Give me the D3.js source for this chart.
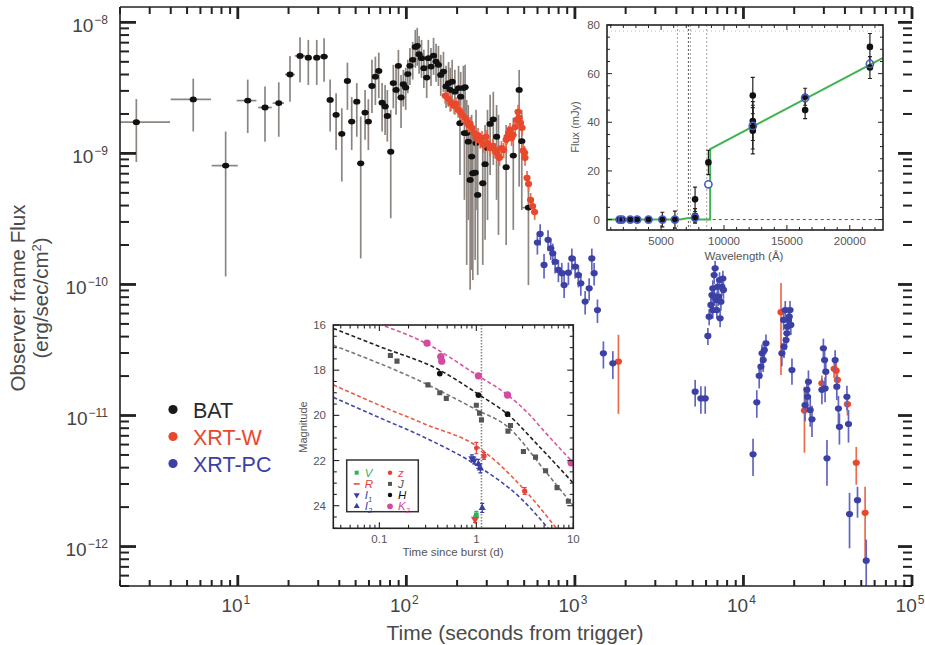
<!DOCTYPE html>
<html>
<head>
<meta charset="utf-8">
<title>GRB light curve with optical/NIR insets</title>
<script src="https://d3js.org/d3.v7.min.js"></script>
<style>
  body { margin: 0; background: #fff; }
  svg { font-family: "Liberation Sans", Arial, sans-serif; }
</style>
</head>
<body>
<svg id="chart" width="925" height="645"></svg>
<script>
// ---- main light curve: BAT [time s, flux, flux low, flux high, (time low, time high)]
const batData = [
  [2.5,1.73e-9,8.6e-10,2.6e-9,2.0,3.96],[5.44,2.58e-9,1.47e-9,3.72e-9,4.0,6.93],
  [8.47,8.07e-10,1.15e-10,1.47e-9,7.0,10],[11.45,2.53e-9,1.43e-9,3.66e-9,9.85,12.9],
  [14.5,2.24e-9,1.23e-9,3.24e-9,13.2,15.9],[17.5,2.42e-9,1.34e-9,3.49e-9,16.1,18.8],
  [20.4,4.0e-9,2.48e-9,5.55e-9,19.1,21.8],[23.4,5.55e-9,3.47e-9,7.71e-9,21.8,25.1],
  [26.2,5.38e-9,3.33e-9,7.35e-9,25.1,27.6],[29.4,5.38e-9,3.33e-9,7.35e-9,28.0,30.8],
  [32.5,5.48e-9,3.53e-9,7.57e-9,30.8,34.2],
  [35.3,2.56e-9,1.47e-9,3.66e-9],[38.3,1.97e-9,1.06e-9,2.88e-9],[41.4,1.41e-9,6.1e-10,2.21e-9],
  [44.7,3.57e-9,2.15e-9,4.93e-9],[47.4,1.75e-9,1.06e-9,2.69e-9],[50.8,2.48e-9,1.34e-9,3.44e-9],
  [53.6,8.4e-10,1.58e-10,1.91e-9],[56.9,2.05e-9,1.27e-9,3.05e-9],[59.5,1.75e-9,1.06e-9,2.59e-9],
  [62.5,3.27e-9,2.03e-9,5.18e-9],[65.5,3.85e-9,2.34e-9,5.48e-9],[68.6,4.26e-9,2.64e-9,5.88e-9],
  [71.8,2.44e-9,1.47e-9,3.44e-9],[74.8,2.28e-9,1.38e-9,3.33e-9],[77.1,1.93e-9,1.23e-9,3.05e-9],
  [80.8,1.03e-9,3.2e-10,2.15e-9],[83.7,3.44e-9,2.21e-9,4.74e-9],[86.9,3.05e-9,1.97e-9,4.6e-9],
  [89.7,4.66e-9,2.8e-9,6.17e-9],[93,2.67e-9,1.56e-9,3.97e-9],[96,3.37e-9,2.28e-9,4.34e-9],
  [99.1,3.18e-9,2.15e-9,4.5e-9],[102,4.03e-9,2.88e-9,5.18e-9],[105,4.66e-9,3.33e-9,6.38e-9],
  [109,5.18e-9,3.66e-9,7.1e-9],[113,6.5e-9,4.5e-9,8.77e-9],[116,6.62e-9,4.66e-9,9.08e-9],
  [119,5.71e-9,4.05e-9,7.88e-9],[123,5.33e-9,3.77e-9,7.35e-9],[127,4.47e-9,3.16e-9,6.17e-9],
  [132,3.79e-9,2.65e-9,5.36e-9],[135,5.33e-9,3.77e-9,7.35e-9],[140,4.6e-9,3.27e-9,6.38e-9],
  [145,5.57e-9,3.97e-9,7.62e-9],[150,5.02e-9,3.52e-9,6.86e-9],[155,4.74e-9,3.27e-9,6.62e-9],
  [160,3.97e-9,2.75e-9,5.65e-9],[166,4.21e-9,2.95e-9,5.95e-9],[172,3.24e-9,2.22e-9,4.66e-9],
  [178,3.44e-9,2.34e-9,4.99e-9],[182,3.05e-9,2.08e-9,4.5e-9],[187,3.53e-9,2.39e-9,5.18e-9],
  [194,2.96e-9,1.97e-9,4.34e-9],[204,3.15e-9,2.08e-9,4.66e-9],[208,1.7e-9,6.85e-10,2.8e-9],
  [210,2.71e-9,1.65e-9,4.19e-9],[218,3.15e-9,1.97e-9,4.66e-9],[221,1.43e-9,4.42e-10,2.56e-9],
  [223,3.2e-9,1.87e-9,4.74e-9],[228,1.43e-9,1.41e-10,2.56e-9],[233,1.23e-9,3.1e-10,2.34e-9],
  [239,6.28e-10,9.1e-11,1.51e-9],[244,9.46e-10,1.29e-10,1.97e-9],[248,7.06e-10,1.08e-10,1.51e-9],
  [256,7.13e-10,1.54e-10,1.51e-9],[259,1.2e-9,3.7e-10,2.15e-9],[265,4.82e-10,1.18e-10,1.16e-9],
  [284,5.92e-10,1.41e-10,1.27e-9],[293,8.27e-10,2.19e-10,1.65e-9],[303,1.1e-9,3.1e-10,2.15e-9],
  [314,1.68e-9,6.85e-10,2.8e-9],[328,1.82e-9,8.17e-10,2.95e-9],[343,1.34e-9,4.42e-10,2.34e-9],
  [352,9.46e-10,2.39e-10,1.97e-9],[391,7.85e-10,2.0e-10,1.65e-9],[431,9.62e-10,2.61e-10,1.87e-9],
  [467,3.05e-9,5.58e-10,4.34e-9],[484,1.24e-9,3.7e-10,2.15e-9],[530,3.86e-10,9.9e-11,5.75e-10,485,580]
];
// XRT windowed timing [time s, flux, 1-sigma error]
const xrtWData = [
  [170,2.75e-9,3.5e-10],[177,2.61e-9,3.4e-10],[184,2.43e-9,3.2e-10],[192,2.31e-9,3e-10],
  [197,2.39e-9,3.1e-10],[203,2.15e-9,2.8e-10],[208,2.08e-9,2.7e-10],[214,1.97e-9,2.6e-10],
  [223,1.87e-9,2.4e-10],[229,1.74e-9,2.3e-10],[234,1.65e-9,2.1e-10],[239,1.68e-9,2.2e-10],
  [245,1.57e-9,2e-10],[252,1.43e-9,1.9e-10],[259,1.31e-9,1.7e-10],[266,1.38e-9,1.8e-10],
  [274,1.25e-9,1.6e-10],[281,1.31e-9,1.7e-10],[287,1.16e-9,1.5e-10],[297,1.34e-9,1.7e-10],
  [303,1.2e-9,1.6e-10],[314,1.1e-9,1.4e-10],[325,1.14e-9,1.5e-10],[336,1.06e-9,1.4e-10],
  [345,1.01e-9,1.3e-10],[357,9.25e-10,1.2e-10],[367,1.1e-9,1.4e-10],[378,1.06e-9,1.4e-10],
  [391,1.27e-9,1.7e-10],[396,1.34e-9,1.7e-10],[404,1.43e-9,1.9e-10],[412,1.51e-9,2e-10],
  [421,1.31e-9,1.7e-10],[430,1.38e-9,1.8e-10],[442,1.59e-9,2.1e-10],[451,1.8e-9,2.3e-10],
  [460,2.08e-9,2.7e-10],[467,1.87e-9,2.4e-10],[476,1.71e-9,2.2e-10],[486,1.57e-9,2e-10],
  [493,1.05e-9,1.4e-10],[503,1.01e-9,1.3e-10],[506,9.25e-10,1.2e-10],[520,6.5e-10,8.5e-11],
  [531,5.85e-10,7.6e-11],[546,4.42e-10,5.7e-11],[561,3.97e-10,5.2e-11],[577,3.57e-10,4.6e-11],
  [1812,2.58e-11,1.55e-11],[16700,6.14e-11,4.1e-11],[23000,1.09e-11,5.7e-12],
  [29200,1.76e-11,2.6e-12],[34500,2.27e-11,3.4e-12],[35500,2.2e-11,3.3e-12],
  [36100,1.87e-11,2.8e-12],[41400,1.22e-11,2.2e-12],[46700,4.36e-12,1.4e-12],
  [52700,1.81e-12,1.05e-12]
];
// XRT photon counting [time s, flux, 1-sigma error]
const xrtPCData = [
  [599,2.09e-10,4e-11],[622,2.43e-10,4.5e-11],[656,1.41e-10,3e-11],[693,2.19e-10,4e-11],
  [719,1.89e-10,3.5e-11],[739,1.73e-10,3.2e-11],[763,1.49e-10,2.8e-11],[798,1.29e-10,2.5e-11],
  [836,1.22e-10,2.4e-11],[863,9.9e-11,2e-11],[915,1.23e-10,2.4e-11],[959,1.58e-10,3e-11],
  [1003,1.37e-10,2.6e-11],[1049,1.18e-10,2.3e-11],[1084,1.02e-10,2e-11],[1150,7.4e-11,1.5e-11],
  [1215,9.35e-11,1.8e-11],[1260,1.58e-10,3e-11],[1300,1.22e-10,2.4e-11],[1361,6.38e-11,1.3e-11],
  [1476,2.98e-11,7e-12],[1679,2.5e-11,6e-12],
  [5170,1.52e-11,3.5e-12],[5590,1.35e-11,3.2e-12],[5930,1.35e-11,3.2e-12],
  [6150,4.05e-11,6e-12],[6260,5.68e-11,8e-12],[6410,6.98e-11,1e-11],[6500,8.31e-11,1.2e-11],
  [6580,9.35e-11,1.4e-11],[6700,1.18e-10,1.7e-11],[6790,1.33e-10,1.9e-11],[6890,7.61e-11,1.1e-11],
  [7010,9.6e-11,1.4e-11],[7110,8.07e-11,1.2e-11],[7210,1.08e-10,1.6e-11],[7350,7.39e-11,1.1e-11],
  [7450,9.6e-11,1.4e-11],[7550,1.11e-10,1.6e-11],[7610,9.08e-11,1.3e-11],[7270,5.52e-11,8e-12],
  [6950,6.38e-11,9e-12],[6580,6.38e-11,9e-12],[6700,8.07e-11,1.2e-11],
  [11400,5.06e-12,1.6e-12],[12000,1.26e-11,3e-12],[12400,2.01e-11,4e-12],[12700,2.36e-11,4.5e-12],
  [12900,2.98e-11,5e-12],[13100,2.65e-11,5e-12],[13300,3.16e-11,5.5e-12],[13600,3.56e-11,6e-12],
  [16900,2.98e-11,6e-12],[17300,5.36e-11,9e-12],[17700,6.38e-11,1.1e-11],[18100,4.24e-11,7e-12],
  [18500,5.36e-11,9e-12],[18900,6.38e-11,1.1e-11],[17400,3.35e-11,6e-12],[17900,3.77e-11,6e-12],
  [18200,4.76e-11,8e-12],[18700,5.68e-11,1e-11],[19400,2.22e-11,5e-12],[19100,4.91e-11,8e-12],
  [23200,1.2e-11,3e-12],[23800,1.57e-11,3.5e-12],[24300,1.81e-11,4e-12],[24900,1.1e-11,2.8e-12],
  [25500,9.35e-12,2.5e-12],[24000,1.39e-11,3e-12],
  [29200,1.57e-11,3.5e-12],[29800,3.26e-11,6e-12],[30300,2.65e-11,5e-12],[30800,2.16e-11,4.5e-12],
  [31300,4.71e-12,1.8e-12],[30500,1.61e-11,3.5e-12],
  [35000,2.65e-11,5e-12],[35800,1.66e-11,3.5e-12],[36600,1.13e-11,2.8e-12],[37100,8.2e-12,2.2e-12],
  [41100,1.39e-11,3e-12],[42000,8.61e-12,2.4e-12],[42600,1.77e-12,8e-13],[47500,2.26e-12,6e-13],
  [53500,7.8e-13,3.5e-13]
];
const legendNames = ["BAT", "XRT-W", "XRT-PC"];
const legendColors = ["#1a1a1a", "#e8482c", "#3b40a4"];

// ---- upper inset: SED [wavelength A, flux mJy, error]
const sedObs = [
  [1700,0,0.4],[1900,0,0.4],[2550,0,0.4],[3100,0,0.4],[4000,0,0.5],[5100,0,3],[6100,0,3.5],
  [7700,0.5,1.5],[7700,8.3,5],[7700,1.5,3],[8760,23.5,5],
  [12290,51,7.5],[12290,40.5,8],[12290,38,9],[12290,36.5,9.5],
  [16450,50.5,3.5],[16450,45,3.5],[21600,71,5.5],[21600,62.5,4.5]
];
const sedModel = [[1700,0],[1900,0],[2550,0],[3100,0],[4000,0],[5100,0],[6100,0],
  [7700,0.8],[8760,14.5],[12290,38.5],[16450,50],[21600,64]];
const sedFit = [[700,0],[6500,0],[7200,0.6],[8100,0],[8900,0],[8900,29],[22640,66.5]];
const sedLines = [6300, 7170, 7330, 8630];
const sedYTicks = [0, 20, 40, 60, 80];
const sedXTicks = [5000, 10000, 15000, 20000];

// ---- lower inset: optical / NIR light curves [days, magnitude, (error)]
const curveK = [[0.114,16.05],[0.3,16.8],[1,18.2],[2.1,19.1],[3.5,19.95],[5,20.7],[10,22.1]];
const curveH = [[0.0335,16.15],[0.1,16.95],[0.42,18.0],[1.08,19.1],[2.1,19.95],[4.5,21.4],[10,23.0]];
const curveJ = [[0.0335,16.9],[0.318,18.65],[1,19.75],[2.1,20.5],[5.2,22.5],[10,24.0]];
const curveR = [[0.0335,18.65],[0.1,19.55],[0.3,20.4],[1,21.35],[3.14,23.3],[6.7,25.0]];
const curveI = [[0.0335,19.2],[0.1,20.1],[0.3,21.0],[1,22.2],[3,23.75],[5.5,25.0]];
const lcJ = [[0.13,17.35],[0.152,17.6],[0.317,18.65],[0.42,19.0],[0.49,19.25],[1.0,19.55],
  [1.08,19.9],[1.13,20.2],[2.12,20.7],[2.25,20.45],[3.06,21.6],[4.08,21.85],[5.18,22.45],
  [6.8,23.2],[8.9,23.8]];
const lcH = [[0.42,18.15],[1.05,19.1],[2.1,19.95]];
const lcK = [[0.31,16.8],[0.43,17.4],[0.44,17.6],[1.05,18.25],[2.1,19.1],[9.5,22.1]];
const lcR = [[1.0,21.45,0.25],[0.97,24.6,0.15]];
const lcZ = [[1.2,21.8,0.15],[3.15,23.35,0.15]];
const lcI1 = [[0.9,21.9,0.15],[0.95,22.0,0.15]];
const lcI2 = [[1.05,22.15,0.2],[1.1,22.35,0.2],[1.15,24.1,0.2]];
const lcV = [[1.0,24.4,0.15]];
const burstLine = 1.13;
const lcYTicks = [16, 18, 20, 22, 24];

const svg = d3.select("#chart");

// ================= main plot =================
const x = d3.scaleLog().domain([2, 1e5]).range([120, 912]);
const y = d3.scaleLog().domain([5e-13, 1.31e-8]).range([586, 7]);
const isDecade = d => Math.abs(Math.log10(d) - Math.round(Math.log10(d))) < 1e-9;

const plot = svg.append("g");

// BAT
plot.selectAll(".bat-yerr").data(batData).join("line").attr("class", "bat-yerr")
  .attr("x1", d => x(d[0])).attr("x2", d => x(d[0]))
  .attr("y1", d => y(d[2])).attr("y2", d => y(d[3]))
  .attr("stroke", "#8c8580").attr("stroke-width", 1.7);
plot.selectAll(".bat-xerr").data(batData.filter(d => d.length > 4)).join("line").attr("class", "bat-xerr")
  .attr("x1", d => x(d[4])).attr("x2", d => x(d[5]))
  .attr("y1", d => y(d[1])).attr("y2", d => y(d[1]))
  .attr("stroke", "#8c8580").attr("stroke-width", 1.7);
plot.selectAll(".bat-pt").data(batData).join("ellipse").attr("class", "bat-pt")
  .attr("cx", d => x(d[0])).attr("cy", d => y(d[1]))
  .attr("rx", 3.6).attr("ry", 2.9).attr("fill", "#111");

function xrtSeries(data, cls, barColor, dotColor) {
  plot.selectAll("." + cls + "-err").data(data).join("line").attr("class", cls + "-err")
    .attr("x1", d => x(d[0])).attr("x2", d => x(d[0]))
    .attr("y1", d => y(d[1] + d[2])).attr("y2", d => y(Math.max(d[1] - d[2], 5e-13)))
    .attr("stroke", barColor).attr("stroke-width", 1.7);
  plot.selectAll("." + cls + "-pt").data(data).join("ellipse").attr("class", cls + "-pt")
    .attr("cx", d => x(d[0])).attr("cy", d => y(d[1]))
    .attr("rx", 3.6).attr("ry", 3.1).attr("fill", dotColor);
}
xrtSeries(xrtWData, "xw", "#ee6a4c", "#e8482c");
xrtSeries(xrtPCData, "xpc", "#6266bf", "#3b40a4");

// axes frame
const axisColor = "#222";
const ax = svg.append("g").attr("stroke", axisColor);
ax.append("line").attr("x1", 120).attr("x2", 120).attr("y1", 7).attr("y2", 586).attr("stroke-width", 1.6);
ax.append("line").attr("x1", 120).attr("x2", 912).attr("y1", 7).attr("y2", 7).attr("stroke-width", 1.6);
ax.append("line").attr("x1", 120).attr("x2", 912).attr("y1", 586).attr("y2", 586).attr("stroke-width", 1.6);

const yt = y.ticks();
const xt = x.ticks();
ax.selectAll(".yl").data(yt).join("line").attr("class", "yl")
  .attr("x1", 120).attr("x2", d => 120 + (isDecade(d) ? 16 : 9))
  .attr("y1", d => y(d)).attr("y2", d => y(d)).attr("stroke-width", d => isDecade(d) ? 2.8 : 2);
ax.selectAll(".yr").data(yt).join("line").attr("class", "yr")
  .attr("x1", 912).attr("x2", d => 912 - (isDecade(d) ? 14 : 9))
  .attr("y1", d => y(d)).attr("y2", d => y(d)).attr("stroke-width", d => isDecade(d) ? 2.8 : 2);
ax.selectAll(".xb").data(xt).join("line").attr("class", "xb")
  .attr("x1", d => x(d)).attr("x2", d => x(d))
  .attr("y1", 586).attr("y2", d => 586 - (isDecade(d) ? 11 : 6)).attr("stroke-width", d => isDecade(d) ? 2.8 : 2);
ax.selectAll(".xtp").data(xt).join("line").attr("class", "xtp")
  .attr("x1", d => x(d)).attr("x2", d => x(d))
  .attr("y1", 7).attr("y2", d => 7 + (isDecade(d) ? 12 : 7)).attr("stroke-width", d => isDecade(d) ? 2.8 : 2);

const sup = n => (n < 0 ? "\u2212" : "") + Math.abs(n);
const tickText = "#444";
const ylab = svg.selectAll(".ylab").data(yt.filter(isDecade)).join("text").attr("class", "ylab")
  .attr("x", 108).attr("y", d => y(d) + 9.5).attr("text-anchor", "end")
  .attr("fill", tickText).attr("font-size", 19);
ylab.append("tspan").text("10");
ylab.append("tspan").attr("dx", 1).attr("dy", -8).attr("font-size", 12).text(d => sup(Math.round(Math.log10(d))));
const xlab = svg.selectAll(".xlab").data(xt.filter(isDecade)).join("text").attr("class", "xlab")
  .attr("x", d => x(d) - 2).attr("y", 612).attr("text-anchor", "middle")
  .attr("fill", tickText).attr("font-size", 19);
xlab.append("tspan").text("10");
xlab.append("tspan").attr("dx", 1).attr("dy", -8).attr("font-size", 12).text(d => sup(Math.round(Math.log10(d))));

svg.append("text").attr("x", 515).attr("y", 640).attr("text-anchor", "middle")
  .attr("fill", "#4a4a4a").attr("font-size", 21).text("Time (seconds from trigger)");
svg.append("text").attr("transform", "translate(25,298) rotate(-90)").attr("text-anchor", "middle")
  .attr("fill", "#4a4a4a").attr("font-size", 20.5).text("Observer frame Flux");
const yt2 = svg.append("text").attr("transform", "translate(48,298) rotate(-90)").attr("text-anchor", "middle")
  .attr("fill", "#4a4a4a").attr("font-size", 20.5);
yt2.append("tspan").text("(erg/sec/cm");
yt2.append("tspan").attr("dy", -7).attr("font-size", 13).text("2");
yt2.append("tspan").attr("dy", 7).text(")");

// legend
const leg = svg.append("g");
leg.selectAll("circle").data(legendNames).join("circle")
  .attr("cx", 173).attr("cy", (d, i) => 409.5 + i * 27).attr("r", 4.6)
  .attr("fill", (d, i) => legendColors[i]);
leg.selectAll("text").data(legendNames).join("text")
  .attr("x", 193).attr("y", (d, i) => 417.5 + i * 27).attr("font-size", 21.5)
  .attr("fill", (d, i) => i === 0 ? "#2a2a2a" : legendColors[i]).text(d => d);

// ================= upper inset (SED) =================
const sx = d3.scaleLinear().domain([700, 22640]).range([607, 883]);
const sy = d3.scaleLinear().domain([-4.3, 80]).range([230, 25]);
const sed = svg.append("g");
sed.append("rect").attr("x", 607).attr("y", 25).attr("width", 276).attr("height", 205).attr("fill", "#fff");
sed.append("line").attr("x1", sx(700)).attr("x2", sx(22640)).attr("y1", sy(77.5)).attr("y2", sy(77.5))
  .attr("stroke", "#bbb").attr("stroke-width", 1).attr("stroke-dasharray", "1,3");
sed.selectAll(".vl").data(sedLines).join("line").attr("class", "vl")
  .attr("x1", d => sx(d)).attr("x2", d => sx(d)).attr("y1", 25).attr("y2", 230)
  .attr("stroke", (d, i) => i === 1 ? "#555" : "#a9a09a").attr("stroke-width", 1)
  .attr("stroke-dasharray", "2,2");
sed.append("line").attr("x1", sx(8630)).attr("x2", sx(22640)).attr("y1", sy(0)).attr("y2", sy(0))
  .attr("stroke", "#555").attr("stroke-width", 1).attr("stroke-dasharray", "3,3");
sed.append("path").datum(sedFit)
  .attr("d", d3.line().x(d => sx(d[0])).y(d => sy(d[1])))
  .attr("fill", "none").attr("stroke", "#3fb34f").attr("stroke-width", 2);
sed.selectAll(".se").data(sedObs).join("path").attr("class", "se")
  .attr("d", d => {
    const cx = sx(d[0]), t = sy(d[1] + d[2]), b = sy(d[1] - d[2]);
    return `M${cx},${t}V${b}M${cx - 2},${t}H${cx + 2}M${cx - 2},${b}H${cx + 2}`;
  })
  .attr("stroke", "#222").attr("stroke-width", 1.2).attr("fill", "none");
sed.selectAll(".sp").data(sedObs).join("circle").attr("class", "sp")
  .attr("cx", d => sx(d[0])).attr("cy", d => sy(d[1])).attr("r", 3.3).attr("fill", "#111");
sed.selectAll(".sm").data(sedModel).join("circle").attr("class", "sm")
  .attr("cx", d => sx(d[0])).attr("cy", d => sy(d[1])).attr("r", 3.6)
  .attr("fill", d => d[0] === 8760 ? "#fff" : "none").attr("stroke", "#4a5cc0").attr("stroke-width", 1.6);
sed.append("rect").attr("x", 607).attr("y", 25).attr("width", 276).attr("height", 205)
  .attr("fill", "none").attr("stroke", "#222").attr("stroke-width", 1.6);
const sedXMinor = d3.range(1000, 22700, 1000);
const sedYMinor = d3.range(0, 80.1, 5);
const sedT = sed.append("g").attr("stroke", "#222").attr("stroke-width", 1);
sedT.selectAll(".sxb").data(sedXMinor).join("line").attr("class", "sxb")
  .attr("x1", d => sx(d)).attr("x2", d => sx(d)).attr("y1", 230)
  .attr("y2", d => 230 - (d % 5000 === 0 ? 5 : 3));
sedT.selectAll(".sxt").data(sedXMinor).join("line").attr("class", "sxt")
  .attr("x1", d => sx(d)).attr("x2", d => sx(d)).attr("y1", 25)
  .attr("y2", d => 25 + (d % 5000 === 0 ? 5 : 3));
sedT.selectAll(".syl").data(sedYMinor).join("line").attr("class", "syl")
  .attr("y1", d => sy(d)).attr("y2", d => sy(d)).attr("x1", 607)
  .attr("x2", d => 607 + (d % 20 === 0 ? 5 : 3));
sedT.selectAll(".syr").data(sedYMinor).join("line").attr("class", "syr")
  .attr("y1", d => sy(d)).attr("y2", d => sy(d)).attr("x1", 883)
  .attr("x2", d => 883 - (d % 20 === 0 ? 5 : 3));
sed.selectAll(".syt").data(sedYTicks).join("text").attr("class", "syt")
  .attr("x", 600).attr("y", d => sy(d) + 4).attr("text-anchor", "end")
  .attr("font-size", 11.5).attr("fill", "#555").text(d => d);
sed.selectAll(".sxt2").data(sedXTicks).join("text").attr("class", "sxt2")
  .attr("x", d => sx(d)).attr("y", 245).attr("text-anchor", "middle")
  .attr("font-size", 11.5).attr("fill", "#555").text(d => d);
sed.append("text").attr("x", 744).attr("y", 260).attr("text-anchor", "middle")
  .attr("font-size", 11.5).attr("fill", "#555").text("Wavelength (\u00c5)");
sed.append("text").attr("transform", "translate(579,127) rotate(-90)").attr("text-anchor", "middle")
  .attr("font-size", 11).attr("fill", "#555").text("Flux (mJy)");

// ================= lower inset (optical/NIR light curves) =================
const lx = d3.scaleLog().domain([0.0335, 10]).range([333.3, 573.3]);
const ly = d3.scaleLinear().domain([16, 25]).range([325, 528.3]);
const lc = svg.append("g");
lc.append("rect").attr("x", 333.3).attr("y", 325).attr("width", 240).attr("height", 203.3).attr("fill", "#fff");
svg.append("clipPath").attr("id", "lcclip").append("rect")
  .attr("x", 333.3).attr("y", 325).attr("width", 240).attr("height", 203.3);
const lcIn = lc.append("g").attr("clip-path", "url(#lcclip)");
lcIn.append("line").attr("x1", lx(burstLine)).attr("x2", lx(burstLine)).attr("y1", 325).attr("y2", 528.3)
  .attr("stroke", "#888").attr("stroke-width", 1.6).attr("stroke-dasharray", "1.5,1.5");
const curveLine = d3.line().x(d => lx(d[0])).y(d => ly(d[1])).curve(d3.curveMonotoneX);
[[curveK, "#d9559d"], [curveH, "#222"], [curveJ, "#777"], [curveR, "#ea5a48"], [curveI, "#4347a8"]]
  .forEach(([c, col]) => {
    lcIn.append("path").datum(c).attr("d", curveLine).attr("fill", "none")
      .attr("stroke", col).attr("stroke-width", 1.6).attr("stroke-dasharray", "4,2.5");
  });
function errBars(data, col) {
  lcIn.selectAll(null).data(data).join("path")
    .attr("d", d => {
      const cx = lx(d[0]), t = ly(d[1] - d[2]), b = ly(d[1] + d[2]);
      return `M${cx},${t}V${b}M${cx - 2},${t}H${cx + 2}M${cx - 2},${b}H${cx + 2}`;
    })
    .attr("stroke", col).attr("stroke-width", 1.2).attr("fill", "none");
}
errBars(lcR, "#e8413a"); errBars(lcZ, "#e8413a"); errBars(lcI1, "#3b3fa5");
errBars(lcI2, "#3b3fa5"); errBars(lcV, "#2db35a");
const sym = (type, size) => d3.symbol().type(type).size(size);
function marks(data, type, size, col, rot) {
  lcIn.selectAll(null).data(data).join("path")
    .attr("d", sym(type, size))
    .attr("transform", d => `translate(${lx(d[0])},${ly(d[1])})` + (rot ? " rotate(180)" : ""))
    .attr("fill", col);
}
marks(lcJ, d3.symbolSquare, 26, "#555");
marks(lcH, d3.symbolCircle, 26, "#111");
marks(lcK, d3.symbolCircle, 42, "#d34a9f");
marks(lcR.slice(0, 1), d3.symbolCircle, 18, "#e8413a");
marks(lcR.slice(1), d3.symbolTriangle, 30, "#e8413a", true);
marks(lcZ, d3.symbolCircle, 22, "#e8413a");
marks(lcI1, d3.symbolTriangle, 22, "#3b3fa5", true);
marks(lcI2, d3.symbolTriangle, 22, "#3b3fa5");
marks(lcV, d3.symbolSquare, 22, "#2db35a");
lc.append("rect").attr("x", 333.3).attr("y", 325).attr("width", 240).attr("height", 203.3)
  .attr("fill", "none").attr("stroke", "#222").attr("stroke-width", 1.6);

const lxt = lx.ticks();
const lyMinor = d3.range(16, 25.01, 0.5);
const lcT = lc.append("g").attr("stroke", "#222").attr("stroke-width", 1.1);
lcT.selectAll(".lxb").data(lxt).join("line").attr("class", "lxb")
  .attr("x1", d => lx(d)).attr("x2", d => lx(d)).attr("y1", 528.3)
  .attr("y2", d => 528.3 - (isDecade(d) ? 6 : 3.5));
lcT.selectAll(".lxt").data(lxt).join("line").attr("class", "lxt")
  .attr("x1", d => lx(d)).attr("x2", d => lx(d)).attr("y1", 325)
  .attr("y2", d => 325 + (isDecade(d) ? 6 : 3.5));
lcT.selectAll(".lyl").data(lyMinor).join("line").attr("class", "lyl")
  .attr("y1", d => ly(d)).attr("y2", d => ly(d)).attr("x1", 333.3)
  .attr("x2", d => 333.3 + (d % 2 === 0 ? 6 : 3.5));
lcT.selectAll(".lyr").data(lyMinor).join("line").attr("class", "lyr")
  .attr("y1", d => ly(d)).attr("y2", d => ly(d)).attr("x1", 573.3)
  .attr("x2", d => 573.3 - (d % 2 === 0 ? 6 : 3.5));
lc.selectAll(".lyt").data(lcYTicks).join("text").attr("class", "lyt")
  .attr("x", 326).attr("y", d => ly(d) + 4).attr("text-anchor", "end")
  .attr("font-size", 11.5).attr("fill", "#555").text(d => d);
lc.selectAll(".lxl").data(lxt.filter(isDecade)).join("text").attr("class", "lxl")
  .attr("x", d => lx(d)).attr("y", 543).attr("text-anchor", "middle")
  .attr("font-size", 11.5).attr("fill", "#555").text(d => d);
lc.append("text").attr("x", 453).attr("y", 556).attr("text-anchor", "middle")
  .attr("font-size", 11.5).attr("fill", "#555").text("Time since burst (d)");
lc.append("text").attr("transform", "translate(307,427) rotate(-90)").attr("text-anchor", "middle")
  .attr("font-size", 11).attr("fill", "#555").text("Magnitude");

// inset legend
const lgItems = [
  { t: "V", s: "", col: "#2db35a", mk: "sq", c: 0, r: 0 },
  { t: "R", s: "", col: "#e8413a", mk: "dash", c: 0, r: 1 },
  { t: "I", s: "1", col: "#3b3fa5", mk: "tdown", c: 0, r: 2 },
  { t: "I", s: "2", col: "#3b3fa5", mk: "tup", c: 0, r: 3 },
  { t: "z", s: "", col: "#e8413a", mk: "dot", c: 1, r: 0 },
  { t: "J", s: "", col: "#555", mk: "sq", c: 1, r: 1 },
  { t: "H", s: "", col: "#111", mk: "dot", c: 1, r: 2 },
  { t: "K", s: "2", col: "#d34a9f", mk: "dot", c: 1, r: 3 }
];
lc.append("rect").attr("x", 346.7).attr("y", 460).attr("width", 71.6).attr("height", 51.7)
  .attr("fill", "#fff").attr("stroke", "#333").attr("stroke-width", 1.5);
const lg = lc.selectAll(".lg").data(lgItems).join("g").attr("class", "lg")
  .attr("transform", d => `translate(${356.7 + d.c * 33.3},${472.7 + d.r * 11.2})`);
lg.append("path")
  .attr("d", d => d.mk === "dash" ? "M-3,0H3" :
    d3.symbol().type(d.mk === "sq" ? d3.symbolSquare : d.mk === "dot" ? d3.symbolCircle : d3.symbolTriangle)
      .size(d.mk === "dot" && d.t === "K" ? 26 : 16)())
  .attr("transform", d => d.mk === "tdown" ? "rotate(180)" : null)
  .attr("fill", d => d.mk === "dash" ? "none" : d.col)
  .attr("stroke", d => d.mk === "dash" ? d.col : "none").attr("stroke-width", 1.5);
const lgt = lg.append("text").attr("x", 8).attr("y", 4).attr("font-size", 11.5)
  .attr("font-style", "italic").attr("fill", d => d.col);
lgt.append("tspan").text(d => d.t);
lgt.append("tspan").attr("dy", 3).attr("font-size", 7.5).text(d => d.s);
</script>
</body>
</html>
